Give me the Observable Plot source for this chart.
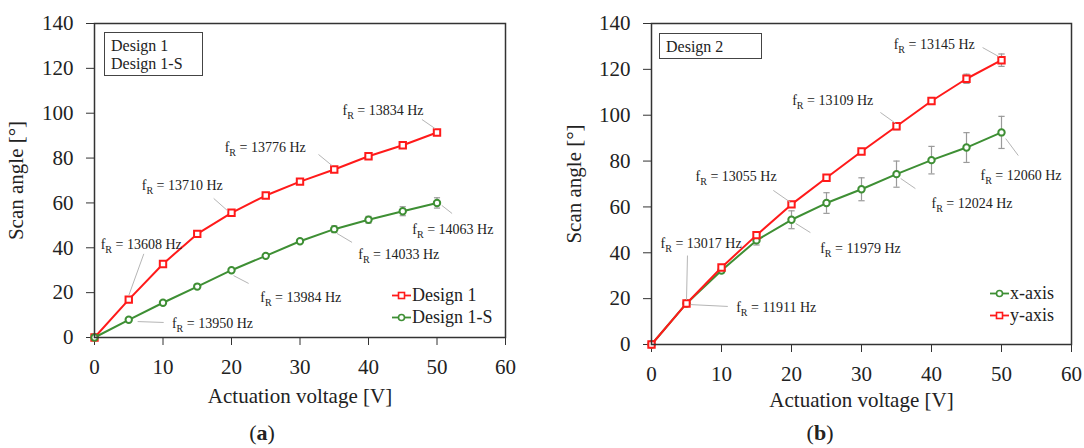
<!DOCTYPE html>
<html>
<head>
<meta charset="utf-8">
<script src="https://cdn.jsdelivr.net/npm/d3@7"></script>
<script src="https://cdn.jsdelivr.net/npm/@observablehq/plot@0.6"></script>
<style>
  html, body { margin: 0; padding: 0; background: #fff; }
  #fig { position: relative; width: 1084px; height: 448px; font-family: "Liberation Serif", serif; color: #222; overflow: hidden; }
  #fig > .panel { position: absolute; top: 0; }
  .box { position: absolute; border: 1px solid #444; font-size: 16px; line-height: 18px; padding: 0 6px; box-sizing: border-box; }
  .legend { position: absolute; font-size: 18px; }
  .legend .row { display: flex; align-items: center; height: 22px; }
  .legend svg { margin-right: 1px; }
  .cap { position: absolute; font-size: 22px; transform: translate(-50%, -50%); }
</style>
</head>
<body>
<div id="fig"></div>
<script>
// Actuation voltage steps [V]
const voltage = [0, 5, 10, 15, 20, 25, 30, 35, 40, 45, 50];

// (a) Design 1 and Design 1-S scan angle [°] with error
const design1    = [0, 16.9, 32.8, 46.2, 55.6, 63.3, 69.5, 74.9, 80.8, 85.7, 91.4];
const design1Err = [0, 0.3, 0.3, 0.4, 0.5, 0.5, 0.6, 1.0, 1.0, 1.2, 1.3];
const design1S    = [0, 7.9, 15.5, 22.7, 30.0, 36.4, 42.9, 48.3, 52.5, 56.3, 60.0];
const design1SErr = [0, 0.3, 0.4, 0.5, 0.5, 0.6, 0.8, 1.5, 1.5, 2.0, 2.3];

// (b) Design 2 scan angle [°] per axis with error
const xAxisAngle = [0, 17.9, 32.3, 45.4, 54.4, 61.7, 67.7, 74.3, 80.4, 85.9, 92.5];
const xAxisErr   = [0, 0.5, 1.0, 2.0, 3.9, 4.5, 5.0, 5.7, 6.0, 6.5, 7.0];
const yAxisAngle = [0, 17.9, 33.6, 47.7, 61.1, 72.7, 84.2, 95.2, 106.2, 115.9, 124.0];
const yAxisErr   = [0, 0.3, 0.5, 0.6, 0.8, 0.8, 1.0, 1.5, 1.5, 2.0, 2.7];

// Resonance frequencies [Hz] quoted at 5, 20, 35 and 50 V
const freqVoltage = [5, 20, 35, 50];
const design1Freq  = [13608, 13710, 13776, 13834];
const design1SFreq = [13950, 13984, 14033, 14063];
const yAxisFreq    = [13017, 13055, 13109, 13145];
const xAxisFreq    = [11911, 11979, 12024, 12060];

// Axis ticks
const xTicks = [0, 10, 20, 30, 40, 50, 60];
const yTicks = [0, 20, 40, 60, 80, 100, 120, 140];

const RED = "#ff1a1a";
const GREEN = "#3e8f34";

// Callout placement in data units: label start (tx, ty) and leader (x1,y1)-(x2,y2)
const design1Callouts = [
  {tx: 0.9, ty: 41.5, x1: 5.0, y1: 18.7, x2: 7.2, y2: 37.3},
  {tx: 6.9, ty: 67.8, x1: 17.4, y1: 62.0, x2: 19.4, y2: 56.6},
  {tx: 19.0, ty: 84.7, x1: 32.7, y1: 81.6, x2: 34.7, y2: 76.6},
  {tx: 36.2, ty: 101.2, x1: 47.8, y1: 97.2, x2: 49.7, y2: 93.2}
];
const design1SCallouts = [
  {tx: 11.3, ty: 6.2, x1: 6.3, y1: 7.1, x2: 10.1, y2: 6.7},
  {tx: 24.2, ty: 17.8, x1: 20.3, y1: 27.6, x2: 22.5, y2: 24.1},
  {tx: 38.5, ty: 37.0, x1: 35.4, y1: 46.4, x2: 37.6, y2: 42.4},
  {tx: 46.4, ty: 48.1, x1: 50.7, y1: 58.9, x2: 52.2, y2: 55.3}
];
const yAxisCallouts = [
  {tx: 1.3, ty: 44.0, x1: 5.14, y1: 38.8, x2: 5.0, y2: 19.5},
  {tx: 6.3, ty: 73.3, x1: 17.4, y1: 67.2, x2: 19.9, y2: 61.9},
  {tx: 20.1, ty: 106.4, x1: 32.7, y1: 101.2, x2: 34.9, y2: 96.4},
  {tx: 34.6, ty: 130.8, x1: 47.3, y1: 129.5, x2: 49.6, y2: 125.6}
];
const xAxisCallouts = [
  {tx: 12.1, ty: 16.1, x1: 5.6, y1: 17.4, x2: 10.9, y2: 16.6},
  {tx: 24.1, ty: 41.9, x1: 20.6, y1: 52.8, x2: 22.7, y2: 48.8},
  {tx: 40.0, ty: 61.5, x1: 35.6, y1: 72.4, x2: 37.7, y2: 68.0},
  {tx: 47.0, ty: 73.7, x1: 50.6, y1: 89.8, x2: 52.4, y2: 82.4}
];

function rows(angle, err) {
  return voltage.map((v, i) => ({v, a: angle[i], e: err[i]}));
}
function callouts(freq, layout) {
  return layout.map((d, i) => ({...d, v: freqVoltage[i], f: freq[i]}));
}

function seriesMarks(data, color, symbol, r) {
  const withErr = data.filter(d => d.e > 0);
  return [
    Plot.ruleX(withErr, {x: "v", y1: d => d.a - d.e, y2: d => d.a + d.e, stroke: "#9a9a9a", strokeWidth: 1.2}),
    Plot.link(withErr, {x1: d => d.v - 0.45, x2: d => d.v + 0.45, y1: d => d.a + d.e, y2: d => d.a + d.e, stroke: "#9a9a9a", strokeWidth: 1.2}),
    Plot.link(withErr, {x1: d => d.v - 0.45, x2: d => d.v + 0.45, y1: d => d.a - d.e, y2: d => d.a - d.e, stroke: "#9a9a9a", strokeWidth: 1.2}),
    Plot.line(data, {x: "v", y: "a", stroke: color, strokeWidth: 2}),
    Plot.dot(data, {x: "v", y: "a", symbol, r, stroke: color, strokeWidth: 2, fill: "white"})
  ];
}

function calloutMarks(items) {
  return [
    Plot.link(items, {x1: "x1", y1: "y1", x2: "x2", y2: "y2", stroke: "#b5b5b5", strokeWidth: 1}),
    Plot.text(items, {x: "tx", y: "ty", text: d => `fR = ${d.f} Hz`, textAnchor: "start", fontSize: 14, fill: "#222"})
  ];
}

function panel({width, marginLeft, marginRight, marginBottom, labelOffsetX, labelOffsetY, layers}) {
  return Plot.plot({
    width, height: 448,
    marginTop: 23, marginLeft, marginRight, marginBottom,
    style: {fontFamily: "Liberation Serif, serif", fontSize: "21px", color: "#222", background: "transparent", overflow: "visible"},
    x: {domain: [0, 60]},
    y: {domain: [0, 140]},
    marks: [
      Plot.axisX({ticks: xTicks, tickSize: 8, tickPadding: 14, stroke: "#333", label: "Actuation voltage [V]", labelAnchor: "center", labelOffset: labelOffsetX, labelArrow: "none"}),
      Plot.axisY({ticks: yTicks, tickSize: 8, tickPadding: 13, stroke: "#333", label: "Scan angle [°]", labelAnchor: "center", labelOffset: labelOffsetY, labelArrow: "none"}),
      ...layers,
      Plot.frame({stroke: "#333", strokeWidth: 1.5})
    ]
  });
}

// Write the resonance subscript as f with a lowered R
function subscriptFR(svg) {
  svg.querySelectorAll("text").forEach(t => {
    const m = /^fR = (.*)$/.exec(t.textContent);
    if (!m) return;
    t.textContent = "f";
    const ns = "http://www.w3.org/2000/svg";
    const sub = document.createElementNS(ns, "tspan");
    sub.setAttribute("font-size", "10");
    sub.setAttribute("dy", "4");
    sub.textContent = "R";
    const rest = document.createElementNS(ns, "tspan");
    rest.setAttribute("dy", "-4");
    rest.textContent = " = " + m[1];
    t.appendChild(sub);
    t.appendChild(rest);
  });
}

const fig = document.getElementById("fig");

const left = panel({
  width: 540, marginLeft: 94, marginRight: 35, marginBottom: 111,
  labelOffsetX: 65, labelOffsetY: 86,
  layers: [
    ...seriesMarks(rows(design1, design1Err), RED, "square", 3.6),
    ...seriesMarks(rows(design1S, design1SErr), GREEN, "circle", 3.2),
    ...calloutMarks(callouts(design1Freq, design1Callouts)),
    ...calloutMarks(callouts(design1SFreq, design1SCallouts))
  ]
});
left.classList.add("panel");
left.style.left = "0px";
subscriptFR(left);
fig.appendChild(left);

const right = panel({
  width: 526, marginLeft: 93, marginRight: 13, marginBottom: 104,
  labelOffsetX: 62, labelOffsetY: 85,
  layers: [
    ...seriesMarks(rows(xAxisAngle, xAxisErr), GREEN, "circle", 3.2),
    ...seriesMarks(rows(yAxisAngle, yAxisErr), RED, "square", 3.6),
    ...calloutMarks(callouts(yAxisFreq, yAxisCallouts)),
    ...calloutMarks(callouts(xAxisFreq, xAxisCallouts))
  ]
});
right.classList.add("panel");
right.style.left = "558px";
subscriptFR(right);
fig.appendChild(right);

// Design name boxes, legends and panel captions
function swatch(color, symbol) {
  const marker = symbol === "square"
    ? `<rect x="6.5" y="4.5" width="6" height="6" fill="white" stroke="${color}" stroke-width="1.6"/>`
    : `<circle cx="9.5" cy="7.5" r="3" fill="white" stroke="${color}" stroke-width="1.6"/>`;
  return `<svg width="19" height="15"><line x1="0" x2="19" y1="7.5" y2="7.5" stroke="${color}" stroke-width="1.8"/>${marker}</svg>`;
}
function legend(x, y, items) {
  const el = document.createElement("div");
  el.className = "legend";
  el.style.left = x + "px";
  el.style.top = y + "px";
  el.innerHTML = items.map(([name, color, sym]) => `<div class="row">${swatch(color, sym)}<span>${name}</span></div>`).join("");
  fig.appendChild(el);
}
function box(x, y, w, h, lines) {
  const el = document.createElement("div");
  el.className = "box";
  Object.assign(el.style, {left: x + "px", top: y + "px", width: w + "px", height: h + "px", paddingTop: "4px"});
  el.innerHTML = lines.join("<br>");
  fig.appendChild(el);
}
function caption(x, y, letter) {
  const el = document.createElement("div");
  el.className = "cap";
  el.style.left = x + "px";
  el.style.top = y + "px";
  el.innerHTML = `(<b>${letter}</b>)`;
  fig.appendChild(el);
}

box(104, 32, 99, 44, ["Design 1", "Design 1-S"]);
box(659, 33, 103, 26, ["Design 2"]);
legend(392, 284, [["Design 1", RED, "square"], ["Design 1-S", GREEN, "circle"]]);
legend(990, 282, [["x-axis", GREEN, "circle"], ["y-axis", RED, "square"]]);
caption(262, 433, "a");
caption(820, 433, "b");
</script>
</body>
</html>
